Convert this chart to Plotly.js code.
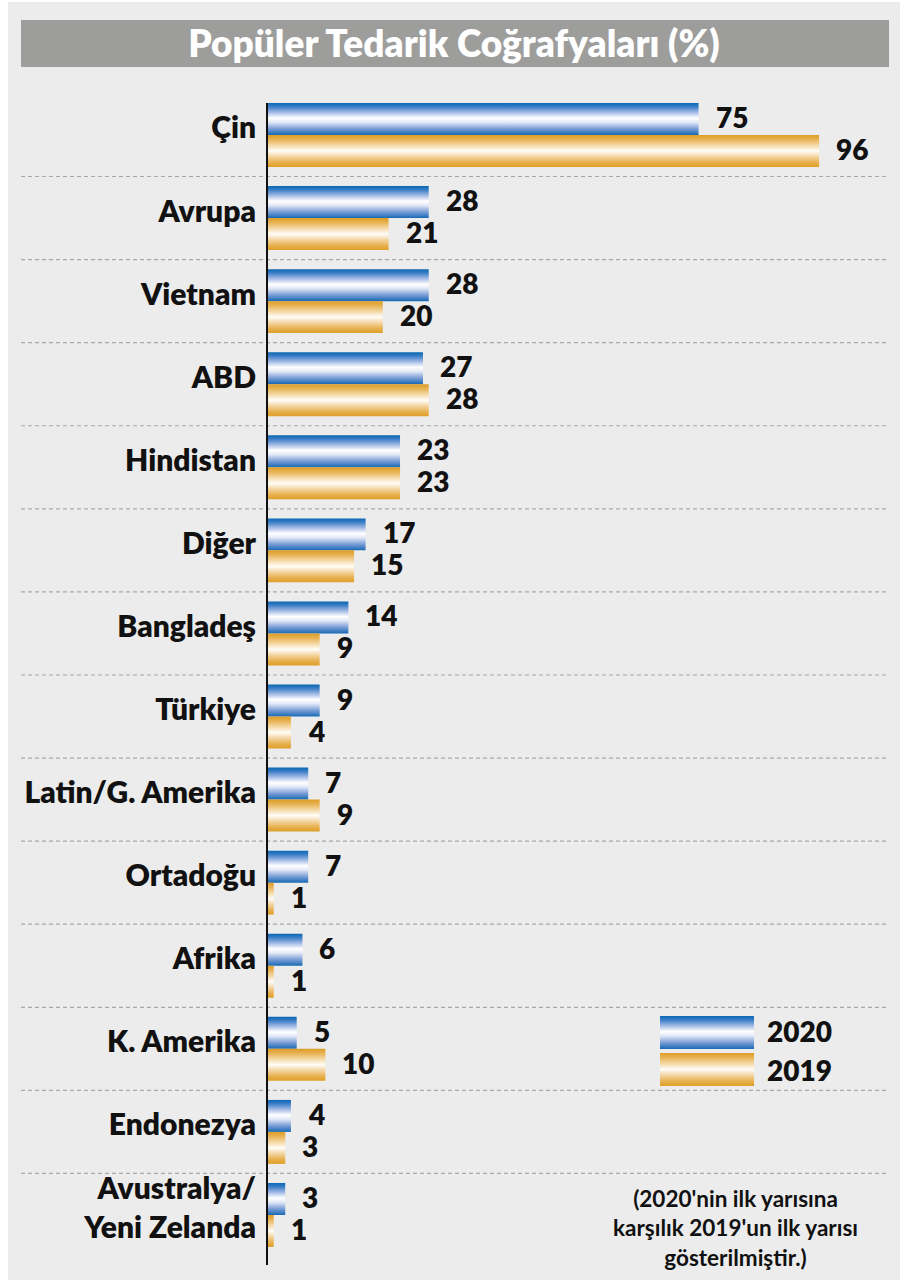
<!DOCTYPE html>
<html>
<head>
<meta charset="utf-8">
<script src="https://cdn.plot.ly/plotly-3.0.1.min.js"></script>
<style>
  html, body { margin: 0; padding: 0; background: #ffffff; }
  #chart { width: 906px; height: 1280px; }
</style>
</head>
<body>
<div id="chart"></div>
<script>
// ---- data ----
const categories = ['Çin', 'Avrupa', 'Vietnam', 'ABD', 'Hindistan', 'Diğer', 'Bangladeş', 'Türkiye',
  'Latin/G. Amerika', 'Ortadoğu', 'Afrika', 'K. Amerika', 'Endonezya', 'Avustralya/<br>Yeni Zelanda'];
const values2020 = [75, 28, 28, 27, 23, 17, 14, 9, 7, 7, 6, 5, 4, 3];
const values2019 = [96, 21, 20, 28, 23, 15, 9, 4, 9, 1, 1, 10, 3, 1];
const seriesNames = ['2020', '2019'];
const titleText = 'Popüler Tedarik Coğrafyaları (%)';
const noteText = "(2020'nin ilk yarısına<br>karşılık 2019'un ilk yarısı<br>gösterilmiştir.)";

// ---- layout geometry ----
const W = 906, H = 1280, L = 268, R = 18, T = 103, B = 15;
const plotW = W - L - R, plotH = H - T - B;
const px2x = px => (px - L) / plotW;
const px2y = py => (H - B - py) / plotH;

const FONT = 'Lato, "Open Sans", "DejaVu Sans", sans-serif';
const INK = '#111111';
const HEAVY = 800;

const blueStops = [
  [0, '#0a67b3'], [0.12, '#3b7ec6'], [0.3, '#a6bce6'], [0.47, '#ffffff'],
  [0.6, '#e3e9f7'], [0.8, '#7d9fd7'], [1, '#1769b4']
];
const orangeStops = [
  [0, '#dd9d26'], [0.15, '#e8b457'], [0.32, '#f4d8a6'], [0.5, '#fffdf8'],
  [0.68, '#f3d4a0'], [0.86, '#e7b04d'], [1, '#de9f28']
];
const gradients = [['gradBlue', blueStops], ['gradOrange', orangeStops]];

function stopsSvg(stops) {
  return stops.map(s => `<stop offset="${s[0]}" stop-color="${s[1]}"/>`).join('');
}
function swatchUri(stops) {
  const svg = `<svg xmlns="http://www.w3.org/2000/svg" width="94" height="33" viewBox="0 0 94 33" preserveAspectRatio="none"><defs><linearGradient id="g" x1="0" y1="0" x2="0" y2="1">${stopsSvg(stops)}</linearGradient></defs><rect x="0" y="0" width="94" height="33" fill="url(#g)"/></svg>`;
  return 'data:image/svg+xml;charset=utf-8,' + encodeURIComponent(svg);
}

const traces = [
  { type: 'bar', orientation: 'h', name: seriesNames[0], x: values2020, y: categories,
    marker: { color: '#4a86c9', line: { width: 0 } }, hoverinfo: 'skip' },
  { type: 'bar', orientation: 'h', name: seriesNames[1], x: values2019, y: categories,
    marker: { color: '#e9b556', line: { width: 0 } }, hoverinfo: 'skip' }
];

// shapes: panel background, title bar, dashed separators
const shapes = [
  { type: 'rect', xref: 'paper', yref: 'paper', layer: 'below',
    x0: px2x(8), x1: px2x(900), y0: px2y(1280), y1: px2y(2),
    fillcolor: '#ececec', line: { width: 0 } },
  { type: 'rect', xref: 'paper', yref: 'paper', layer: 'below',
    x0: px2x(21), x1: px2x(889), y0: px2y(67), y1: px2y(20),
    fillcolor: '#9d9d9c', line: { width: 0 } }
];
for (let i = 0; i < categories.length - 1; i++) {
  shapes.push({ type: 'line', xref: 'paper', yref: 'y', layer: 'below',
    x0: px2x(21), x1: px2x(888), y0: i + 0.5, y1: i + 0.5,
    line: { color: '#a8a8a8', width: 1.2, dash: '4px,3px' } });
}

// value labels
const annotations = [];
const valueFont = { family: FONT, size: 28, color: INK, weight: HEAVY };
categories.forEach((c, i) => {
  annotations.push({ x: values2020[i], y: c, xref: 'x', yref: 'y', text: String(values2020[i]),
    showarrow: false, xanchor: 'left', yanchor: 'middle', xshift: 15, yshift: 18, font: valueFont });
  annotations.push({ x: values2019[i], y: c, xref: 'x', yref: 'y', text: String(values2019[i]),
    showarrow: false, xanchor: 'left', yanchor: 'middle', xshift: 15, yshift: -14, font: valueFont });
});
// legend text
annotations.push({ xref: 'paper', yref: 'paper', x: px2x(765), y: px2y(1031), text: seriesNames[0],
  showarrow: false, xanchor: 'left', yanchor: 'middle', font: valueFont });
annotations.push({ xref: 'paper', yref: 'paper', x: px2x(765), y: px2y(1070), text: seriesNames[1],
  showarrow: false, xanchor: 'left', yanchor: 'middle', font: valueFont });
// note
annotations.push({ xref: 'paper', yref: 'paper', x: px2x(735), y: px2y(1228), text: noteText,
  showarrow: false, xanchor: 'center', yanchor: 'middle', align: 'center',
  font: { family: FONT, size: 22.5, color: INK, weight: 'bold' } });

const images = [
  { source: swatchUri(blueStops), xref: 'paper', yref: 'paper', x: px2x(660), y: px2y(1016),
    sizex: 94 / plotW, sizey: 33 / plotH, xanchor: 'left', yanchor: 'top', sizing: 'stretch', layer: 'above' },
  { source: swatchUri(orangeStops), xref: 'paper', yref: 'paper', x: px2x(660), y: px2y(1053),
    sizex: 94 / plotW, sizey: 33 / plotH, xanchor: 'left', yanchor: 'top', sizing: 'stretch', layer: 'above' }
];

const layout = {
  width: W, height: H,
  margin: { l: L, r: R, t: T, b: B, pad: 0 },
  paper_bgcolor: '#ffffff',
  plot_bgcolor: 'rgba(0,0,0,0)',
  showlegend: false,
  barmode: 'group',
  bargap: 0.23,
  bargroupgap: 0,
  title: { text: titleText, xref: 'container', yref: 'container', x: 454 / W, y: 1 - 44 / H,
    xanchor: 'center', yanchor: 'middle',
    font: { family: FONT, size: 37, color: '#ffffff', weight: HEAVY } },
  xaxis: { range: [0, 108], showgrid: false, zeroline: false, showticklabels: false,
    showline: false, fixedrange: true },
  yaxis: { type: 'category', categoryorder: 'array', categoryarray: categories,
    range: [13.602, -0.385], showgrid: false, zeroline: false,
    showline: true, linecolor: INK, linewidth: 2, ticks: '', ticklabelstandoff: 4, ticklabelshift: 7,
    tickfont: { family: FONT, size: 30, color: INK, weight: HEAVY }, automargin: false, fixedrange: true },
  shapes: shapes,
  annotations: annotations,
  images: images
};

function applyGradients(gd) {
  const svg = gd.querySelector('svg.main-svg');
  if (!svg) return;
  let defs = svg.querySelector('defs');
  if (!defs) { defs = document.createElementNS('http://www.w3.org/2000/svg', 'defs'); svg.insertBefore(defs, svg.firstChild); }
  gradients.forEach(([id, stops]) => {
    if (document.getElementById(id)) return;
    const lg = document.createElementNS('http://www.w3.org/2000/svg', 'linearGradient');
    lg.setAttribute('id', id);
    lg.setAttribute('x1', '0'); lg.setAttribute('y1', '0');
    lg.setAttribute('x2', '0'); lg.setAttribute('y2', '1');
    stops.forEach(s => {
      const st = document.createElementNS('http://www.w3.org/2000/svg', 'stop');
      st.setAttribute('offset', s[0]);
      st.setAttribute('stop-color', s[1]);
      lg.appendChild(st);
    });
    defs.appendChild(lg);
  });
  const traceGroups = gd.querySelectorAll('.barlayer .trace');
  traceGroups.forEach((t, i) => {
    const gid = gradients[i % gradients.length][0];
    t.querySelectorAll('path').forEach(p => { p.style.fill = `url(#${gid})`; });
  });
}

const gd = document.getElementById('chart');
Plotly.newPlot(gd, traces, layout, { staticPlot: true, displayModeBar: false }).then(() => {
  applyGradients(gd);
  gd.on && gd.on('plotly_afterplot', () => applyGradients(gd));
});
</script>
</body>
</html>
